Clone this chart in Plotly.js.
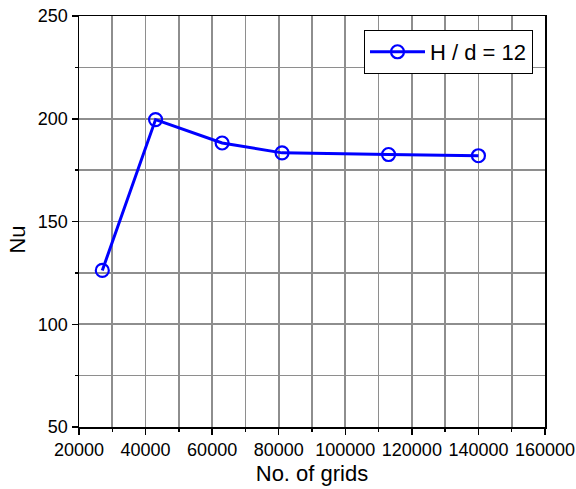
<!DOCTYPE html>
<html>
<head>
<meta charset="utf-8">
<script src="https://cdn.plot.ly/plotly-3.0.1.min.js"></script>
<style>
  html, body { margin: 0; padding: 0; background: #fff; }
  #chart { width: 576px; height: 489px; }
</style>
</head>
<body>
<div id="chart"></div>
<script>
// Grid-independence study: Nusselt number vs. mesh size
const gridCounts = [27000, 43000, 63000, 81000, 113000, 140000];
const nuValues = [126.2, 199.6, 188.2, 183.4, 182.6, 182.0];
const seriesName = 'H / d = 12';
const xTitle = 'No. of grids';
const yTitle = 'Nu';

const FONT = 'Arial, "Liberation Sans", Helvetica, sans-serif';
const GRID = '#8e8e8e';

const trace = {
  x: gridCounts,
  y: nuValues,
  name: seriesName,
  type: 'scatter',
  mode: 'lines+markers',
  line: { color: '#0000ff', width: 3 },
  marker: { symbol: 'circle-open', size: 13, color: '#0000ff', line: { width: 2.2, color: '#0000ff' } }
};

const baseAxis = {
  showline: true, mirror: true, linecolor: '#000', linewidth: 1.5,
  zeroline: false,
  showgrid: true, gridcolor: GRID, gridwidth: 1.6,
  ticks: 'outside', ticklen: 6, tickwidth: 1.5, tickcolor: '#000',
  tickfont: { family: FONT, size: 18, color: '#000' }
};

const layout = {
  width: 576, height: 489,
  margin: { l: 79, r: 31, t: 16, b: 62 },
  paper_bgcolor: '#fff', plot_bgcolor: '#fff',
  font: { family: FONT, color: '#000' },
  showlegend: true,
  legend: {
    x: 0.6116, y: 0.966, xanchor: 'left', yanchor: 'top',
    bgcolor: '#fff', bordercolor: '#000', borderwidth: 1,
    itemwidth: 55,
    font: { family: FONT, size: 22, color: '#000' }
  },
  xaxis: Object.assign({}, baseAxis, {
    range: [20000, 160000], tick0: 20000, dtick: 20000, tickformat: 'd',
    minor: { dtick: 10000, showgrid: true, gridcolor: GRID, gridwidth: 1.6, ticks: 'outside', ticklen: 3, tickwidth: 1.5, tickcolor: '#000' },
    title: { text: xTitle, font: { family: FONT, size: 22, color: '#000' }, standoff: 6 }
  }),
  yaxis: Object.assign({}, baseAxis, {
    range: [50, 250], tick0: 50, dtick: 50,
    minor: { dtick: 25, showgrid: true, gridcolor: GRID, gridwidth: 1.6, ticks: 'outside', ticklen: 3, tickwidth: 1.5, tickcolor: '#000' }
  }),
  annotations: [{
    text: yTitle, textangle: -90, showarrow: false,
    xref: 'paper', yref: 'paper', x: -0.131, y: 0.456,
    xanchor: 'center', yanchor: 'middle',
    font: { family: FONT, size: 22, color: '#000' }
  }]
};

Plotly.newPlot('chart', [trace], layout, { displayModeBar: false, staticPlot: true });
</script>
</body>
</html>
